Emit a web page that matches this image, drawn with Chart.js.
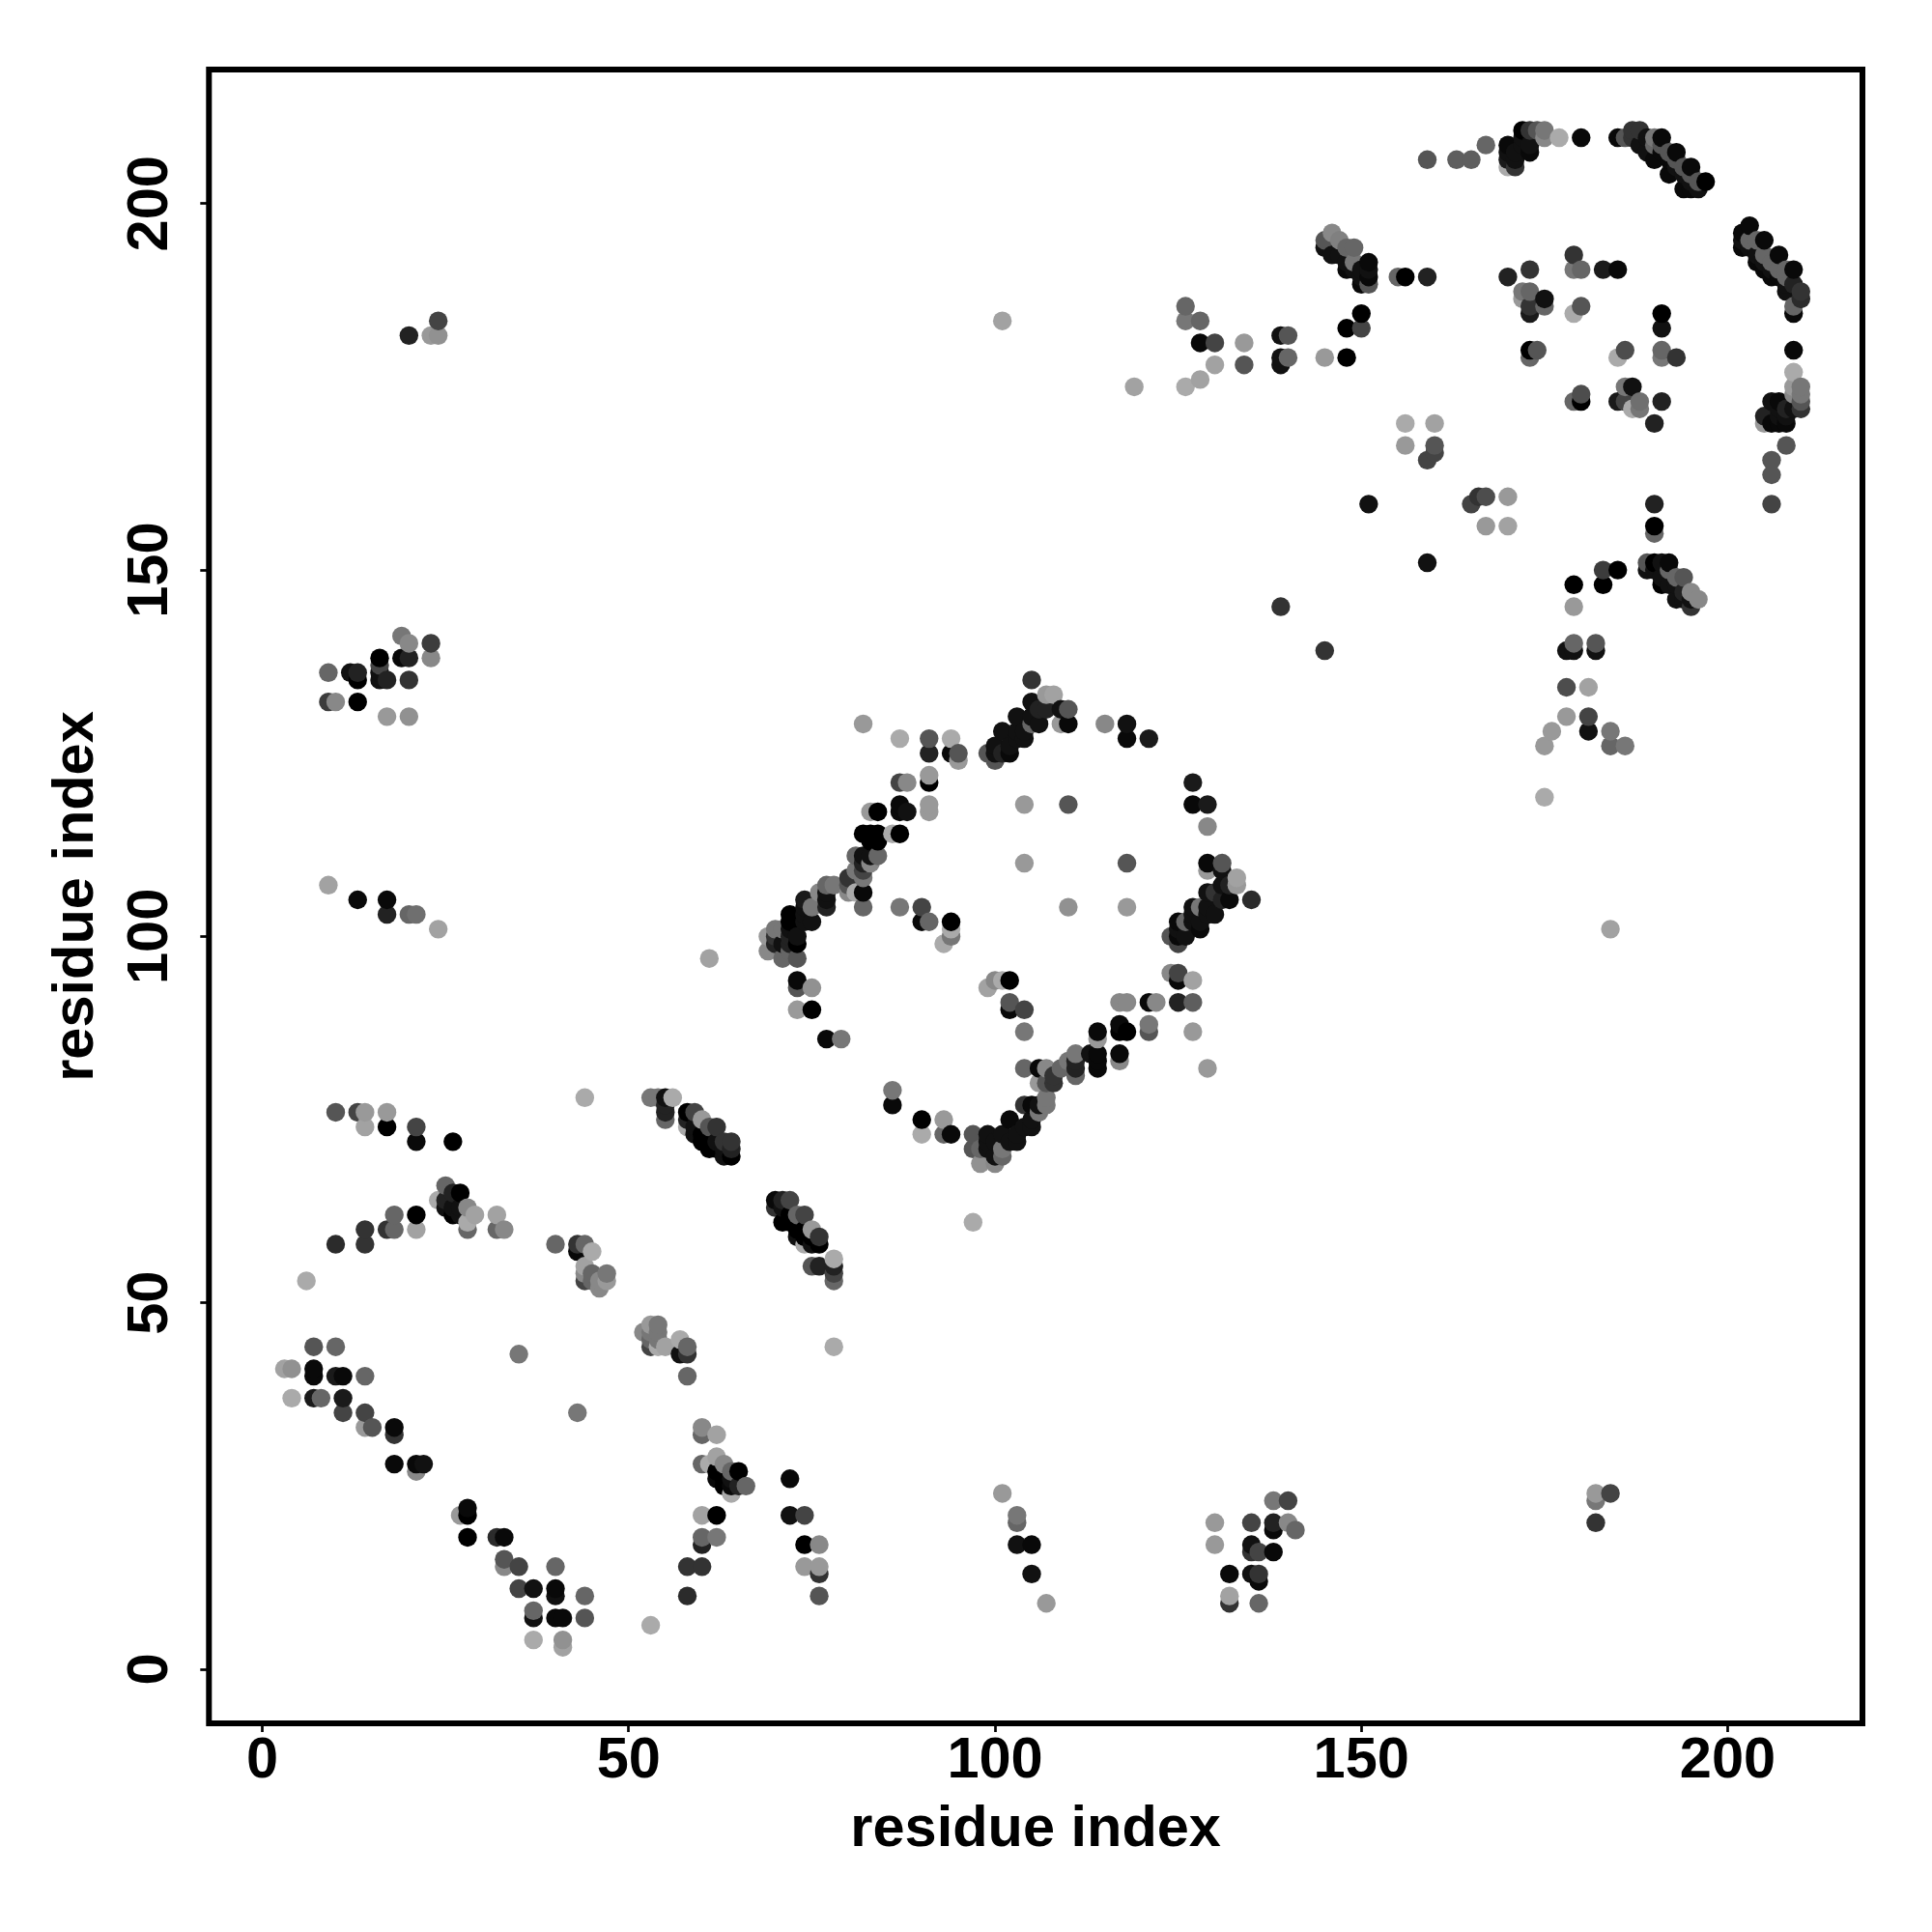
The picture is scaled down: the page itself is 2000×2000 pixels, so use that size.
<!DOCTYPE html>
<html lang="en">
<head>
<meta charset="UTF-8">
<title>residue contact map</title>
<script src="https://cdn.jsdelivr.net/npm/chart.js"></script>
<style>
  html, body { margin: 0; padding: 0; background: #fff; }
  canvas { display: block; }
</style>
</head>
<body>
<canvas id="contactMap" width="2000" height="2000"></canvas>
<script>
// contacts: [residue i, residue j, distance]
// distance 0 = darkest, 10 = lightest
const axisTicks = [0, 50, 100, 150, 200];
const axisLabel = "residue index";

const contactsArcA = [[6,53,10],[10,58,2.5],[14,60,3],[14,58,3],[17,60,3],[18,60,6],[18,62,6],[21,62,0],[21,60,9.5],
  [25,66,6],[24,64,10],[26,65,2],[27,65,0],[25,64,2],[25,63,1],[26,62,0],[28,63,8],[29,62,9.5],[28,60,6],[28,61,10],[27,63,1],[27,62,1],[26,63,1],
  [32,62,9.5],[32,60,6],[33,60,8],[40,58,6],[43,58,3],[43,57,0.5],[44,58,6],[45,57,10],[44,55,9.5],[44,53,4],[45,54,6],[46,52,8],[47,54,7],[47,53,9],[46,53,8],[45,53,6],[44,54,8]];
const contactsStrandA = [[52,46,8],[53,47,9],[54,47,7],[53,44,4],[53,45,6],[54,45,7],[54,44,10],[55,44,9.5],[57,45,10],[57,43,1],[58,44,6],[58,43,3],[58,40,6],[53,46,7],[54,46,7],
  [60,33,8],[60,32,6],[62,32,9.5],[60,28,6],[61,28,10],[62,29,9.5],[63,28,8],[64,27,6],[65,27,0],[62,27,0],[62,26,0.5],[63,26,0],[64,25,0.5],[66,25,6],[64,24,10],[63,25,0],[65,25,2],[64,26,1],
  [72,26,0.5],[60,21,9.5],[62,21,0],[72,21,1],[74,21,4],[60,18,6],[60,17,2],[62,18,7],[74,17,0],[76,17,8],[74,14,9],[76,14,9],[76,13,3],[76,10,5],[58,14,3],[60,14,3],[58,10,2.5],[53,6,10],[78,44,10]];
const contactsLowerLeft = [[7,44,5],[10,44,6],[3,41,9.5],[4,41,8.5],[7,41,0.5],[7,40,0.5],[10,40,1.5],[11,40,0.5],[14,40,6],[4,37,10],[7,37,1.5],[8,37,6],[11,37,1.5],[11,35,4],[14,35,4],[14,33,9],[15,33,5],[18,33,0.5],[18,32,3],[18,28,0.5],[21,28,0.5],[22,28,1],[21,27,8],
  [35,43,7],[43,35,7],[28,22,0.5],[28,21,0],[27,21,9],[28,18,0],[32,18,2.5],[33,18,0.5],[33,15,5],[33,14,8],[35,14,4],[40,14,6],[35,11,4],[37,11,1],[40,11,0.5],[40,10,1],[44,10,6],[37,8,6],[37,7,1],[40,7,0.5],[41,7,0.5],[44,7,5],[37,4,10],[41,4,8.5],[41,3,9.5]];
const contactsRowSeventy = [[10,76,5],[13,76,4],[14,76,9],[14,74,9.5],[17,76,9],[17,74,0],[21,74,4],[21,72,0.5],[26,72,0],[44,78,10],
  [53,78,7],[54,78,7],[55,78,1],[56,78,10],[55,77,2],[55,76,2],[55,75,6],[58,76,0],[59,76,4],[60,75,9],[58,75,2],[58,74,10],[59,73,1],[61,74,5],[62,74,3],[60,72,0],[61,71,0],[63,72,3],[64,72,3],[64,70,0],[63,70,1],[64,71,2],[59,74,1],[60,73,0],[61,72,0],[62,72,1],[62,71,0],[63,71,1],[97,61,10]];
const contactsStrandB = [[70,64,0.5],[71,64,2],[72,64,4],[70,63,3],[74,62,4],[75,60,9],[76,59,3],[76,58,0],[73,62,6],[71,61,0],[72,61,0],[73,60,0],[73,59,1],[74,59,0],[74,58,10],[75,58,1],[71,63,1],[72,62,0],[73,61,0],[74,60,0],[75,59,0],
  [75,55,5],[76,55,2],[78,56,10],[78,55,2],[78,54,4],[78,53,6]];
const contactsRingTop = [[105,135,3],[107,133,9],[108,133,9.5],[105,132,1],[106,131,2],[107,131,2],[109,131,1],[110,131,5],[103,130,1],[105,130,1],[106,129,1],[110,129,0.5],[109,129,9],[101,128,1],[104,128,1],[103,128,1],[104,127,1],[100,126,1],[101,125,2],[102,125,0.5],[99,125,5],[100,125,1],[100,124,5],[102,126,1],[103,127,1],[105,129,6],
  [82,129,9],[87,127,10],[91,127,5],[94,127,10],[91,125,2],[94,125,0.5],[95,125,5],[95,124,9],[91,122,9],[91,121,0],[87,121,4],[88,121,8],[91,118,9],[91,117,9],[87,118,0.5],[87,117,0.5],[88,117,1],[84,117,0],[83,117,9],[86,114,10],[87,114,0],[82,114,0],[83,114,0],[84,114,0],[83,113,0],[84,113,0],
  [115,129,8],[118,129,1],[118,127,0.5],[121,127,1.5]];
const contactsRingLeft = [[84,111,6],[83,111,1],[82,111,1],[81,111,6],[83,110,8],[82,110,2],[81,109,7],[82,109,4],[82,108,7],[80,108,3],[80,107,5],[80,106,8],[81,106,10],[82,106,0.5],[82,104,6],[77,107,6],[78,107,7],[77,106,1],[77,105,1],[77,104,2],[76,106,8],[74,105,1.5],[74,104,1],[75,104,7],[75,102,1],[74,103,1],[72,103,0],[72,102,0],[74,102,1],[73,99,0],[72,101,1],[71,101,7],[70,101,7],[69,100,9],[69,98,8],[70,100,3],[71,99,1],[71,97,6],[73,97,5],[72,98,6],[73,100,1],[72,100,2],[70,99,2],[72,99,2],
  [73,94,0.5],[73,93,5],[75,93,8.5],[73,90,9],[75,90,0],[77,86,0.5],[79,86,7],[87,104,7],[90,104,4],[90,102,0.5],[91,102,6],[94,102,0],[94,101,10],[94,100,7],[93,99,10],[61,97,9.5]];
const contactsRingInner = [[104,118,9],[110,118,5],[104,110,9],[118,110,5],[110,104,8.5],[118,104,9],[99,93,9.5],[100,94,8],[101,94,10],[102,94,0],[102,91,5],[102,90,0.5],[104,90,4],[104,87,7]];
const contactsRingRight = [[127,121,1.5],[127,118,0.5],[129,118,1.5],[129,115,8],[129,110,0.5],[131,110,5],[129,109,9],[131,109,1],[133,108,9.5],[133,107,9],[132,107,2],[131,107,1],[129,106,1],[130,106,3],[132,105,0.5],[135,105,2.5],[131,105,2],[127,104,1],[129,104,1],[128,104,7],[130,103,1],[125,102,0.5],[127,102,1],[126,102,6],[128,101,0.5],[125,101,1],[126,100,1],[124,100,5],[125,99,4],[129,103,1],[127,103,1],[125,100,0.5],[128,102,1],
  [124,95,8],[125,95,4],[125,94,0.5],[127,94,9.5],[125,91,2],[127,91,5.5],[121,91,0.5],[122,91,8],[117,91,8],[118,91,8],[121,88,7],[121,87,5],[127,87,9],[129,82,9]];
const contactsRingBottom = [[117,88,0.5],[117,87,0],[118,87,0],[114,87,0.5],[114,86,9],[117,84,0.5],[117,83,8],[114,84,0.5],[114,83,0.5],[114,82,0.5],[113,84,1],[111,84,7],[110,83,7],[111,83,2],[111,82,2],[111,81,6],[109,82,6],[108,81,3],[108,80,3],[107,80,5],[106,80,9],[104,82,6],[106,82,0.5],[107,82,8],
  [107,78,7],[107,77,7],[106,76,7],[105,77,0.5],[104,77,3],[106,77,1],[105,74,1],[105,75,1],[102,75,0.5],[101,73,1],[103,72,1],[102,72,1],[101,71,7],[99,73,1],[99,72,1],[100,72,1],[97,73,5],[97,71,5],[98,71,6],[98,69,8.5],[100,69,8],[100,70,1],[101,70,6],[99,71,1],[103,73,1],[104,74,1],
  [86,79,7],[86,77,0.5],[90,75,0],[93,75,9],[90,73,10],[93,73,6],[94,73,0.5]];
const contactsArcTop = [[159,206,5],[163,206,5.5],[165,206,5.5],[167,208,6],[170,208,0.5],[170,207,1],[170,206,1.5],[170,205,10],[171,205,3],[171,206,1],[172,210,0],[173,210,3],[174,210,5],[175,210,7],[175,209,8],[172,209,1],[173,208,1],[173,207,0.5],[172,208,1],[171,207,1],[177,209,10],[180,209,0.5],
  [185,209,0.5],[186,209,5],[187,210,3],[188,210,3],[188,208,1],[187,209,3],[189,209,1],[190,209,7],[191,209,0.5],[190,206,0.5],[193,207,0.5],[192,204,0.5],[195,205,0.5],[194,202,0.5],[197,203,0],[195,202,0.5],[196,202,1],[191,208,5],[192,207,5],[193,206,5],[194,205,5],[195,204,5],[196,203,5],[191,207,0.5],[192,206,0.5],[193,205,1],[194,204,1],[195,203,1],[190,208,6],[189,207,1]];
const contactsArcRight = [[203,197,0.5],[202,196,0.5],[202,194,0.5],[202,195,1],[205,195,0.5],[204,195,6],[203,195,6],[207,193,0.5],[209,191,0.5],[203,194,1],[204,193,1],[204,192,0.5],[206,190,0.5],[206,191,1],[205,192,1],[205,193,6],[206,192,6],[208,190,6],[207,191,6],[208,191,6],[208,188,1],[210,188,3],[210,187,2.5],[209,189,2],[209,186,6],[209,185,0.5],[207,190,0.5],[208,189,1],[205,191,0.5],
  [209,180,0.5],[209,177,10],[209,175,9],[210,175,7],[210,174,7],[210,173,5],[210,172,3],[209,174,8],[209,172,1],[207,173,0.5],[207,172,1],[206,173,1],[205,171,2],[205,170,9],[206,170,0.5],[207,170,0.5],[208,170,0.5],[208,172,2],[208,171,1],[207,171,1],[208,167,5],[206,165,5],[206,163,5],[206,159,4]];
const contactsUpperMid = [[146,196,8],[145,195,5],[147,195,7.5],[148,194,6],[149,194,6],[146,193,1],[148,191,0.5],[147,193,1],[148,192,1],[149,192,7],[151,192,0.5],[151,191,1],[151,190,0.5],[151,189,5],[150,189,0.5],[149,191,1],[150,191,1],[150,190,1],[145,194,1],
  [155,190,6],[156,190,0],[159,190,2],[150,185,0],[148,183,0],[150,183,4],[145,179,9],[148,179,0],[139,182,1],[140,182,5],[139,179,1],[139,178,1],[140,179,6],[134,178,5],[134,181,9],
  [119,175,9.5],[126,175,10],[128,176,9.5],[130,178,9.5],[126,186,6],[126,184,7],[128,184,6],[128,181,0.5],[130,181,4],[101,184,9.5]];
const contactsUpperInner = [[170,190,2],[173,191,3],[179,193,3],[179,191,7],[180,191,6],[183,191,1.5],[185,191,0.5],[172,188,7],[173,188,6],[172,187,9],[173,186,3],[175,187,1],[175,186,6],[173,185,1.5],[180,186,5],[179,185,10],[191,185,0],[191,183,1],[173,180,0],[173,179,6],[174,180,5],[186,180,4.5],[185,179,10],[191,180,6],[191,179,7],[193,179,3],
  [180,174,4.5],[180,173,0],[179,173,6],[186,175,7],[187,175,1],[185,173,1.5],[188,173,6.5],[187,172,10],[188,172,7],[186,173,4],[191,173,2],[190,170,2],
  [156,170,10],[160,170,9.5],[156,167,9],[160,167,5],[160,166,4],[159,165,4],[151,159,1],[165,159,4],[166,160,3],[167,160,4.5],[170,160,9],[167,156,9],[170,156,9.5]];
const contactsUpperRight = [[190,159,2],[190,156,0],[190,155,6],[159,151,1],[189,151,5],[190,151,0],[191,151,1],[192,151,0.5],[189,150,1],[190,150,1],[191,149,1],[191,148,0],[193,149,6],[194,149,5],[195,147,8],[196,146,8],[193,146,1],[195,145,3],[192,150,6],[192,148,1],[194,146,1],[195,146,1],[193,148,1],[194,147,2],
  [185,150,0],[183,150,3.5],[183,148,0],[179,148,0],[179,145,9],[179,140,6],[178,139,1],[179,139,1],[182,140,5],[182,139,1],[178,134,4.5],[181,134,9.5],[178,130,9],[181,130,4],[181,128,1],[176,128,9],[175,126,9],[184,128,7],[184,126,6],[186,126,7],[175,119,10],[184,101,9.5],[139,145,3],[145,139,3]];
const contactsUpperLeft = [[19,141,7],[20,140,8],[23,140,3.5],[23,138,8],[16,138,0],[19,138,0.5],[20,138,2],[16,137,4],[9,136,6],[12,136,1],[13,136,2],[13,135,0],[16,135,1],[17,135,2],[20,135,3],[16,136,1],[9,132,3.5],[10,132,8],[13,132,0],[17,130,9],[20,130,8.5],
  [9,107,9.5],[13,105,0.5],[17,105,0.5],[17,103,2],[20,103,6],[21,103,6.5],[24,101,9.5],[20,182,2],[23,182,9],[24,182,8.5],[24,184,4]];
const contactsLowerRight = [[101,24,9],[103,21,7],[103,20,6],[103,17,1],[105,17,0.5],[105,13,1],[107,9,9],[130,20,9],[130,17,9],[132,13,0.5],[132,10,9.5],[132,9,3],[135,20,4],[135,17,1],[135,16,3],[135,13,1],[136,13,3],[136,12,0.5],[136,16,4],[136,9,6],[138,23,7],[138,20,2],[138,19,0.5],[138,16,0.5],[140,23,4],[140,20,8],[141,19,6],[182,24,9],[182,23,7],[182,20,3],[184,24,4]];

const allContacts = [].concat(contactsArcA, contactsStrandA, contactsLowerLeft, contactsRowSeventy, contactsStrandB,
  contactsRingTop, contactsRingLeft, contactsRingInner, contactsRingRight, contactsRingBottom,
  contactsArcTop, contactsArcRight, contactsUpperMid, contactsUpperInner, contactsUpperRight, contactsUpperLeft, contactsLowerRight);

// the original is drawn in index order, so later residues sit on top
allContacts.sort(function (a, b) { return a[0] - b[0] || a[1] - b[1]; });

function distanceToGrey(d) {
  const v = Math.round(d * 17);
  return "rgb(" + v + "," + v + "," + v + ")";
}

const boxBorder = {
  id: "boxBorder",
  afterDatasetsDraw(chart) {
    const a = chart.chartArea, ctx = chart.ctx;
    ctx.save();
    ctx.strokeStyle = "#000";
    ctx.lineWidth = 6;
    ctx.strokeRect(a.left, a.top, a.right - a.left, a.bottom - a.top);
    ctx.restore();
  }
};

const labelFont = { family: "'Liberation Sans'", weight: "bold", size: 59.5, lineHeight: 1 };

new Chart(document.getElementById("contactMap"), {
  type: "scatter",
  plugins: [boxBorder],
  data: {
    datasets: [{
      data: allContacts.map(function (c) { return { x: c[0], y: c[1] }; }),
      pointRadius: 9.7,
      pointBorderWidth: 0,
      pointBackgroundColor: allContacts.map(function (c) { return distanceToGrey(c[2]); })
    }]
  },
  options: {
    responsive: false,
    animation: false,
    layout: { padding: { top: 72, right: 72, left: 0, bottom: 0 } },
    plugins: { legend: { display: false }, tooltip: { enabled: false } },
    scales: {
      x: {
        type: "linear",
        min: -7.3,
        max: 218.4,
        afterBuildTicks(scale) { scale.ticks = axisTicks.map(function (v) { return { value: v }; }); },
        afterFit(scale) { scale.height = 216; },
        border: { display: false },
        grid: { drawOnChartArea: false, drawTicks: true, tickLength: 9, tickWidth: 2.7, tickColor: "#000" },
        ticks: { color: "#000", font: labelFont, padding: 1, maxRotation: 0, minRotation: 0, autoSkip: false },
        title: { display: true, text: axisLabel, color: "#000", font: labelFont, padding: { top: 0, bottom: 76 } }
      },
      y: {
        type: "linear",
        min: -7.38,
        max: 218.3,
        afterBuildTicks(scale) { scale.ticks = axisTicks.map(function (v) { return { value: v }; }); },
        afterFit(scale) { scale.width = 216.3; },
        border: { display: false },
        grid: { drawOnChartArea: false, drawTicks: true, tickLength: 9, tickWidth: 2.7, tickColor: "#000" },
        ticks: { color: "#000", font: labelFont, padding: 1.5, minRotation: 90, maxRotation: 90, crossAlign: "center", autoSkip: false },
        title: { display: true, text: axisLabel, color: "#000", font: labelFont, padding: { top: 50, bottom: 0 } }
      }
    }
  }
});
</script>
</body>
</html>
